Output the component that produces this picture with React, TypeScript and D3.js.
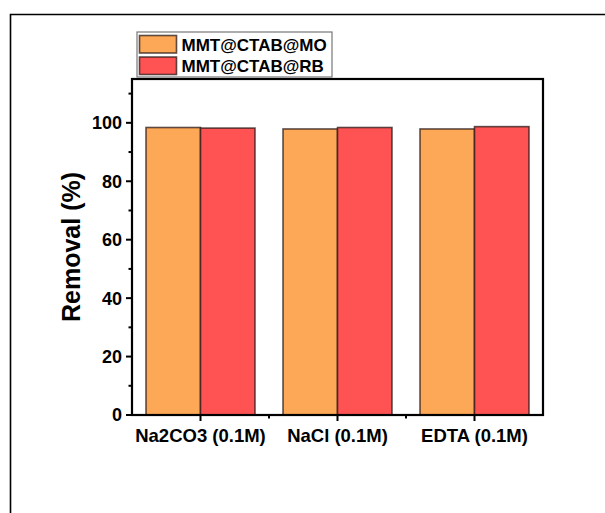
import React from "react";
import * as d3 from "d3";

const categories = ["Na2CO3 (0.1M)", "NaCl (0.1M)", "EDTA (0.1M)"];
const seriesNames = ["MMT@CTAB@MO", "MMT@CTAB@RB"];
const moValues = [98.4, 97.9, 97.9];
const rbValues = [98.2, 98.4, 98.7];
const yTicks = [0, 20, 40, 60, 80, 100];
const yMinorTicks = [10, 30, 50, 70, 90, 110];
const colors = ["#FCA856", "#FF5353"];

const W = 605;
const H = 513;
const M = { left: 132, right: 543, top: 79, bottom: 415 };
const FONT = "Arial, 'Liberation Sans', sans-serif";

export default function App() {
  const x = d3
    .scaleBand<string>()
    .domain(categories)
    .range([M.left, M.right])
    .paddingInner(0)
    .paddingOuter(0);
  const y = d3.scaleLinear().domain([0, 115]).range([M.bottom, M.top]);
  const inner = d3
    .scaleBand<string>()
    .domain(seriesNames)
    .range([0, x.bandwidth()])
    .paddingInner(0)
    .paddingOuter(0.257);
  const series = [moValues, rbValues];
  const boundaries = categories.slice(1).map((c) => x(c)!);

  return (
    <svg
      width={W}
      height={H}
      style={{ position: "absolute", left: 0, top: 0, background: "#fff" }}
      fontFamily={FONT}
    >
      <rect x={0} y={0} width={W} height={H} fill="#fff" />
      {/* outer frame */}
      <path d={`M10.5,${H} L10.5,14.5 L${W},14.5`} fill="none" stroke="#000" strokeWidth={1.6} />

      {/* bars */}
      {categories.map((c, i) => (
        <g key={c}>
          {seriesNames.map((s, j) => {
            const v = series[j][i];
            const bx = x(c)! + inner(s)!;
            return (
              <rect
                key={s}
                x={bx}
                y={y(v)}
                width={inner.bandwidth()}
                height={y(0) - y(v)}
                fill={colors[j]}
                stroke="#2a1a1a"
                strokeOpacity={0.75}
                strokeWidth={1.6}
              />
            );
          })}
        </g>
      ))}

      {/* axes frame */}
      <rect
        x={M.left}
        y={M.top}
        width={M.right - M.left}
        height={M.bottom - M.top}
        fill="none"
        stroke="#000"
        strokeWidth={2.2}
      />

      {/* y ticks */}
      {yTicks.map((t) => (
        <g key={t}>
          <line x1={M.left - 6} x2={M.left} y1={y(t)} y2={y(t)} stroke="#000" strokeWidth={2} />
          <text
            x={M.left - 10}
            y={y(t)}
            dy="0.36em"
            textAnchor="end"
            fontSize={18}
            fontWeight="bold"
          >
            {t}
          </text>
        </g>
      ))}
      {yMinorTicks.map((t) => (
        <line key={t} x1={M.left - 3.5} x2={M.left} y1={y(t)} y2={y(t)} stroke="#000" strokeWidth={2} />
      ))}

      {/* x ticks */}
      {categories.map((c) => {
        const cx = x(c)! + x.bandwidth() / 2;
        return (
          <g key={c}>
            <line x1={cx} x2={cx} y1={M.bottom} y2={M.bottom + 6} stroke="#000" strokeWidth={2} />
            <text x={cx} y={M.bottom + 27} textAnchor="middle" fontSize={18.5} fontWeight="bold">
              {c}
            </text>
          </g>
        );
      })}
      {boundaries.map((b, i) => (
        <line key={i} x1={b} x2={b} y1={M.bottom} y2={M.bottom + 3.5} stroke="#000" strokeWidth={2} />
      ))}

      {/* y label */}
      <text
        transform={`translate(80,${(M.top + M.bottom) / 2}) rotate(-90)`}
        textAnchor="middle"
        fontSize={25}
        fontWeight="bold"
      >
        Removal (%)
      </text>

      {/* legend */}
      <rect x={137} y={32} width={195} height={45} fill="#fff" stroke="#777" strokeWidth={1.2} />
      {seriesNames.map((s, j) => (
        <g key={s}>
          <rect
            x={139.5}
            y={35.5 + j * 21.5}
            width={37}
            height={17.5}
            fill={colors[j]}
            stroke="#2a1a1a"
            strokeOpacity={0.75}
            strokeWidth={1.6}
          />
          <text x={181.5} y={51} fontSize={17} fontWeight="bold" dy={j * 21}>
            {s}
          </text>
        </g>
      ))}
    </svg>
  );
}
